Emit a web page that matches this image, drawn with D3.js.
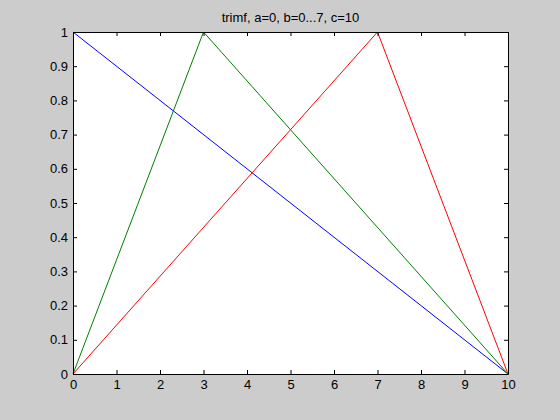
<!DOCTYPE html>
<html lang="en">
<head>
<meta charset="utf-8">
<title>trimf</title>
<script src="https://d3js.org/d3.v7.min.js"></script>
<style>
  body { margin: 0; background: #cccccc; }
  svg text { font-family: "Liberation Sans", Arial, sans-serif; fill: #000; }
  .tick text { font-size: 13px; }
  .title { font-size: 13px; }
</style>
</head>
<body>
<div id="vis"></div>
<script>
// membership function breakpoints
const bluePts  = [[0, 1], [10, 0]];          // b = 0
const greenPts = [[0, 0], [3, 1], [10, 0]];  // b = 3
const redPts   = [[0, 0], [7, 1], [10, 0]];  // b = 7
const seriesColors = ["#0000ff", "#008000", "#ff0000"];
const xTicks = [0, 1, 2, 3, 4, 5, 6, 7, 8, 9, 10];
const yTicks = [0, 0.1, 0.2, 0.3, 0.4, 0.5, 0.6, 0.7, 0.8, 0.9, 1];
const titleText = "trimf, a=0, b=0...7, c=10";

const width = 560, height = 420;
const axL = 73, axR = 508, axT = 32, axB = 374;

const svg = d3.select("#vis").append("svg")
    .attr("width", width)
    .attr("height", height)
    .style("display", "block");

const x = d3.scaleLinear().domain([0, 10]).range([axL, axR]);
const y = d3.scaleLinear().domain([0, 1]).range([axB, axT]);

svg.append("rect")
    .attr("x", axL).attr("y", axT)
    .attr("width", axR - axL).attr("height", axB - axT)
    .attr("fill", "#fff");

const line = d3.line().x(d => x(d[0])).y(d => y(d[1]));

[bluePts, greenPts, redPts].forEach((pts, i) => {
  svg.append("path")
     .datum(pts)
     .attr("d", line)
     .attr("fill", "none")
     .attr("stroke", seriesColors[i])
     .attr("stroke-width", 1);
});

const tl = 4;
// bottom / left with labels, top / right ticks only
svg.append("g")
   .attr("transform", "translate(0," + axB + ")")
   .call(d3.axisBottom(x).tickValues(xTicks).tickFormat(d3.format("d"))
         .tickSizeInner(-tl).tickSizeOuter(0).tickPadding(6));
svg.append("g")
   .attr("transform", "translate(" + axL + ",0)")
   .call(d3.axisLeft(y).tickValues(yTicks).tickFormat(d => String(+d.toFixed(1)))
         .tickSizeInner(-tl).tickSizeOuter(0).tickPadding(5));
svg.append("g")
   .attr("transform", "translate(0," + axT + ")")
   .call(d3.axisTop(x).tickValues(xTicks).tickFormat("")
         .tickSizeInner(-tl).tickSizeOuter(0));
svg.append("g")
   .attr("transform", "translate(" + axR + ",0)")
   .call(d3.axisRight(y).tickValues(yTicks).tickFormat("")
         .tickSizeInner(-tl).tickSizeOuter(0));

svg.selectAll(".domain").attr("stroke", "#000");
svg.selectAll(".tick line").attr("stroke", "#000");
svg.selectAll(".tick text").attr("font-size", 13).attr("font-family", null);

svg.append("text")
   .attr("class", "title")
   .attr("x", (axL + axR) / 2)
   .attr("y", 22)
   .attr("text-anchor", "middle")
   .text(titleText);
</script>
</body>
</html>
